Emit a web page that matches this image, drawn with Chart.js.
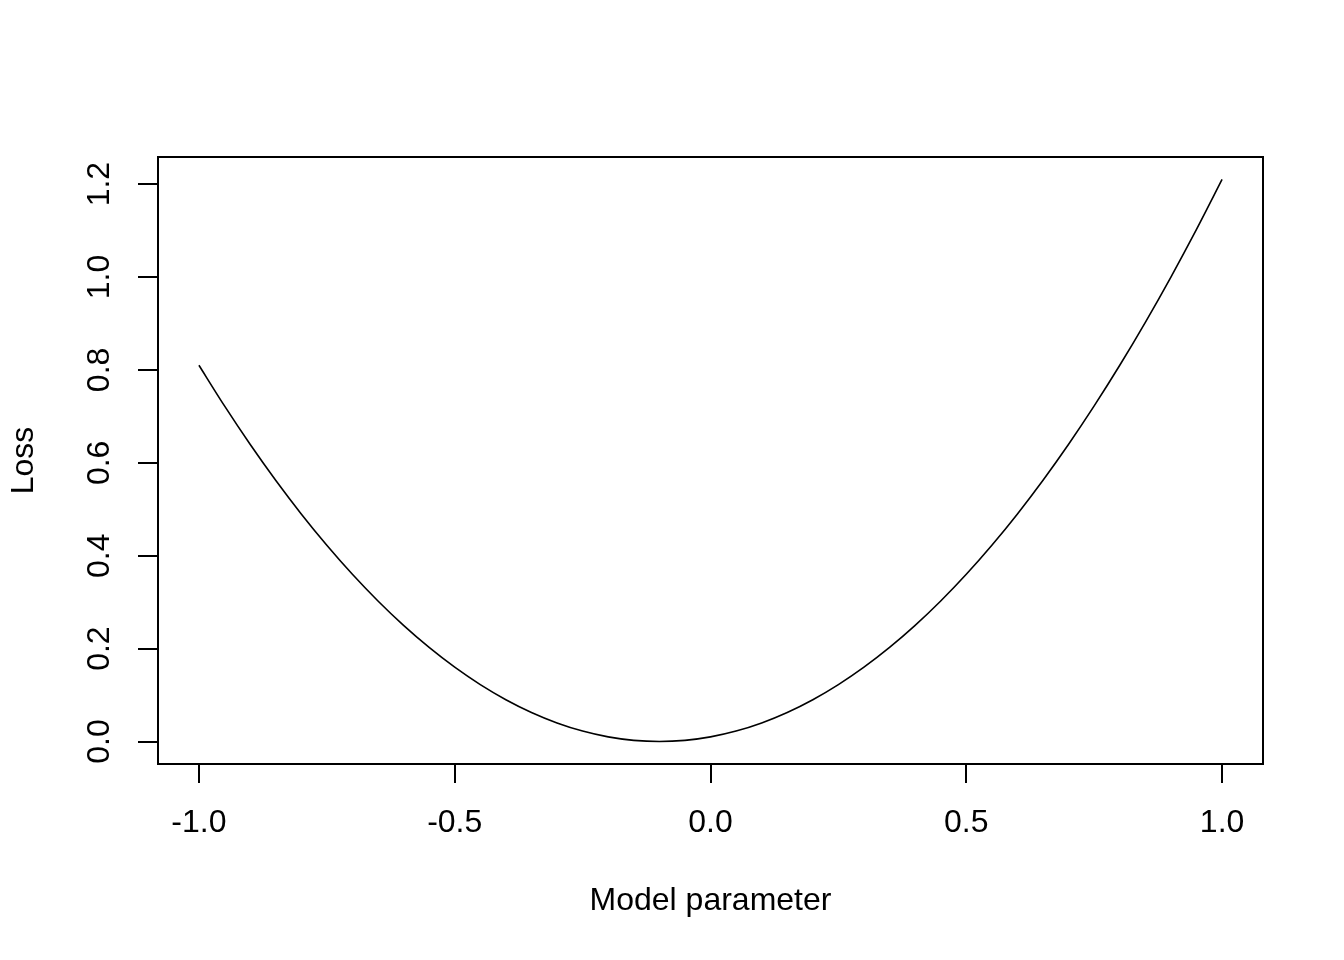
<!DOCTYPE html>
<html lang="en">
<head>
    <meta charset="UTF-8">
    <title>Loss curve</title>
    <style>
        body { margin: 0; background: #fff; }
        #chart { display: block; }
    </style>
</head>
<body>
    <canvas id="chart" width="1344" height="960"></canvas>
    <script src="https://cdn.jsdelivr.net/npm/chart.js"></script>
    <script>
        // values
        const paramValues = [-1.00, -0.95, -0.90, -0.85, -0.80, -0.75, -0.70, -0.65, -0.60, -0.55,
                             -0.50, -0.45, -0.40, -0.35, -0.30, -0.25, -0.20, -0.15, -0.10, -0.05,
                              0.00,  0.05,  0.10,  0.15,  0.20,  0.25,  0.30,  0.35,  0.40,  0.45,
                              0.50,  0.55,  0.60,  0.65,  0.70,  0.75,  0.80,  0.85,  0.90,  0.95, 1.00];
        const lossValues = [0.81, 0.7225, 0.64, 0.5625, 0.49, 0.4225, 0.36, 0.3025, 0.25, 0.2025,
                            0.16, 0.1225, 0.09, 0.0625, 0.04, 0.0225, 0.01, 0.0025, 0.0, 0.0025,
                            0.01, 0.0225, 0.04, 0.0625, 0.09, 0.1225, 0.16, 0.2025, 0.25, 0.3025,
                            0.36, 0.4225, 0.49, 0.5625, 0.64, 0.7225, 0.81, 0.9025, 1.00, 1.1025, 1.21];
        const xTicks = [-1.0, -0.5, 0.0, 0.5, 1.0];
        const yTicks = [0.0, 0.2, 0.4, 0.6, 0.8, 1.0, 1.2];
        const xTitle = 'Model parameter';
        const yTitle = 'Loss';

        const FONT = '32px "Liberation Sans", Arial, sans-serif';

        // R-style box, outward ticks and rotated y labels
        const baseAxes = {
            id: 'baseAxes',
            afterDraw(chart) {
                const c = chart.ctx;
                const a = chart.chartArea;
                const sx = chart.scales.x, sy = chart.scales.y;
                c.save();
                c.strokeStyle = '#000';
                c.fillStyle = '#000';
                c.lineWidth = 2;
                c.strokeRect(a.left, a.top, a.right - a.left, a.bottom - a.top);

                c.font = FONT;
                c.textAlign = 'center';
                c.textBaseline = 'middle';
                // x axis line between first and last tick
                c.beginPath();
                c.moveTo(sx.getPixelForValue(xTicks[0]), a.bottom);
                c.lineTo(sx.getPixelForValue(xTicks[xTicks.length - 1]), a.bottom);
                xTicks.forEach(v => {
                    const px = Math.round(sx.getPixelForValue(v));
                    c.moveTo(px, a.bottom);
                    c.lineTo(px, a.bottom + 19);
                });
                c.stroke();
                xTicks.forEach(v => {
                    c.fillText(v.toFixed(1), sx.getPixelForValue(v), a.bottom + 59);
                });

                c.beginPath();
                yTicks.forEach(v => {
                    const py = Math.round(sy.getPixelForValue(v));
                    c.moveTo(a.left, py);
                    c.lineTo(a.left - 20, py);
                });
                c.stroke();
                yTicks.forEach(v => {
                    c.save();
                    c.translate(100, sy.getPixelForValue(v));
                    c.rotate(-Math.PI / 2);
                    c.fillText(v.toFixed(1), 0, 0);
                    c.restore();
                });

                c.fillText(xTitle, (a.left + a.right) / 2, a.bottom + 137);
                c.save();
                c.translate(24, (a.top + a.bottom) / 2);
                c.rotate(-Math.PI / 2);
                c.fillText(yTitle, 0, 0);
                c.restore();
                c.restore();
            }
        };

        const ctx = document.getElementById('chart').getContext('2d');
        const lossChart = new Chart(ctx, {
            type: 'line',
            data: {
                datasets: [{
                    data: paramValues.map((x, i) => ({ x: x, y: lossValues[i] })),
                    borderColor: '#000',
                    borderWidth: 1.6,
                    pointRadius: 0,
                    tension: 0.3,
                    fill: false
                }]
            },
            options: {
                responsive: false,
                animation: false,
                layout: { padding: { left: 158, top: 157, right: 81, bottom: 196 } },
                plugins: { legend: { display: false }, tooltip: { enabled: false } },
                scales: {
                    x: { type: 'linear', min: -1.08, max: 1.08, display: false },
                    y: { type: 'linear', min: -0.0484, max: 1.2584, display: false }
                }
            },
            plugins: [baseAxes]
        });
    </script>
</body>
</html>
